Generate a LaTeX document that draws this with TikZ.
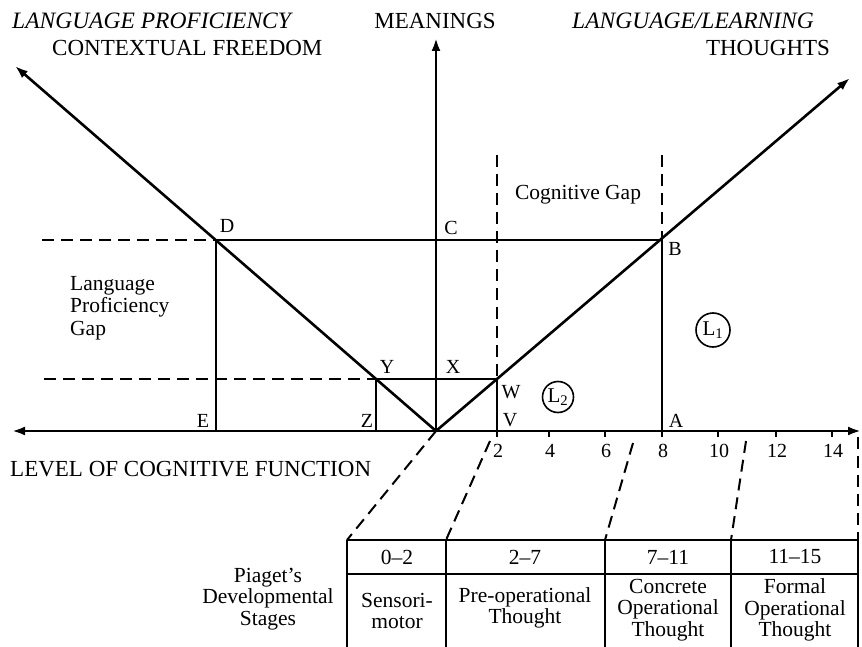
\documentclass[tikz,border=0pt]{standalone}
\usepackage{fontspec}
\setmainfont{Liberation Serif}
\usetikzlibrary{arrows.meta,calc}
\begin{document}
\begin{tikzpicture}[x=1pt,y=-1pt,
  mainline/.style={line width=2.6pt},
  rectline/.style={line width=2pt},
  dashline/.style={line width=2pt,dash pattern=on 12pt off 7pt},
  tableline/.style={line width=1.6pt},
  arr/.style={-{Latex[length=13pt,width=9pt]}},
  bigtext/.style={font=\fontsize{23}{25}\selectfont,inner sep=0pt},
  ittext/.style={font=\fontsize{23.5}{25}\selectfont\itshape,inner sep=0pt},
  celltext/.style={font=\fontsize{21.5}{23}\selectfont,inner sep=0pt},
  ptlabel/.style={font=\fontsize{20}{22}\selectfont,inner sep=0pt},
  ticklabel/.style={font=\fontsize{20}{22}\selectfont,inner sep=0pt},
  multi/.style={font=\fontsize{21.5}{21.5}\selectfont,align=center,inner sep=0pt},
  multil/.style={font=\fontsize{21.5}{22.5}\selectfont,align=left,inner sep=0pt,anchor=west},
  circ/.style={draw,circle,line width=1.6pt,minimum size=34pt,inner sep=0pt,font=\fontsize{21}{23}\selectfont}
]
\useasboundingbox (0,0) rectangle (862,647);

% key points
\coordinate (O) at (436,431);
\coordinate (XL) at (12,431);
\coordinate (XR) at (861,431);
\coordinate (MT) at (436,38);
\coordinate (LT) at (15,66);
\coordinate (RT) at (850,78);
\coordinate (D) at (216,240);
\coordinate (B) at (662,240);
\coordinate (Cp) at (436,240);
\coordinate (Y) at (376,379);
\coordinate (W) at (497,379);
\coordinate (Xp) at (436,379);
\coordinate (E) at (216,431);
\coordinate (Z) at (376,431);
\coordinate (V) at (497,431);
\coordinate (A) at (662,431);
\coordinate (DL) at (42,240);
\coordinate (YL) at (44,379);
\coordinate (WT) at (497,155);
\coordinate (BT) at (662,155);

% axes
\draw[mainline,arr] (O) -- (XL);
\draw[mainline,arr] (O) -- (XR);
\draw[mainline,arr] (O) -- (MT);
\draw[mainline,arr] (O) -- (LT);
\draw[mainline,arr] (O) -- (RT);

% rectangles
\draw[rectline] (D) -- (B);
\draw[rectline] (D) -- (E);
\draw[rectline] (B) -- (A);
\draw[rectline] (Y) -- (W);
\draw[rectline] (Y) -- (Z);
\draw[rectline] (W) -- (V);
\draw[dashline] (DL) -- (D);
\draw[dashline] (YL) -- (Y);
\draw[dashline] (WT) -- (W);
\draw[dashline] (BT) -- (B);

% ticks
\foreach \xx/\lab in {497/2,549/4,605/6,662/8,718/10,776/12,832/14}{
  \draw[line width=1.6pt] (\xx,431) -- (\xx,437);
  \node[ticklabel] (tk\lab) at (\xx+1,451) {\lab};
}

% table
\coordinate (T1) at (347,540);
\coordinate (T2) at (446,540);
\coordinate (T3) at (605,540);
\coordinate (T4) at (731,540);
\coordinate (T5) at (858,540);
\coordinate (S2) at (490,441);
\coordinate (S3) at (633,443);
\coordinate (S4) at (746,441);
\coordinate (S5) at (858,437);
\draw[dashline] (O) -- (T1);
\draw[dashline] (S2) -- (T2);
\draw[dashline] (S3) -- (T3);
\draw[dashline] (S4) -- (T4);
\draw[dashline] (S5) -- (T5);
\draw[tableline] (T1) -- (T5);
\draw[tableline] (347,574) -- (858,574);
\foreach \xx in {347,446,605,731,858}{
  \draw[tableline] (\xx,540) -- (\xx,647);
}

% headings
\node[ittext,anchor=west] (hlp) at (12,21) {LANGUAGE PROFICIENCY};
\node[bigtext] (hmean) at (435,21) {MEANINGS};
\node[ittext] (hll) at (693,21) {LANGUAGE/LEARNING};
\node[bigtext,anchor=west] (hcf) at (52,48) {CONTEXTUAL FREEDOM};
\node[bigtext] (hth) at (768,48) {THOUGHTS};
\node[bigtext,anchor=west] (hlev) at (10,469) {LEVEL OF COGNITIVE FUNCTION};
\node[multil] (lpg) at (70,308) {Language\\Proficiency\\Gap};
\node[celltext] (cg) at (578,195) {Cognitive Gap};
\node[multi] (pds) at (268,599) {Piaget's\\Developmental\\Stages};

% point labels
\node[ptlabel] (lD) at (227,226) {D};
\node[ptlabel] (lC) at (451,228) {C};
\node[ptlabel] (lB) at (675,249) {B};
\node[ptlabel] (lX) at (453,367) {X};
\node[ptlabel] (lY) at (387,367) {Y};
\node[ptlabel] (lW) at (511,392) {W};
\node[ptlabel] (lV) at (510,420) {V};
\node[ptlabel] (lA) at (676,421) {A};
\node[ptlabel] (lZ) at (367,421) {Z};
\node[ptlabel] (lE) at (203,421) {E};

\node[circ] (L1) at (713,330) {L\textsubscript{1}};
\node[circ,minimum size=31pt] (L2) at (558,397) {L\textsubscript{2}};

% table text
\node[celltext] (r1) at (397,557) {0–2};
\node[celltext] (r2) at (525,557) {2–7};
\node[celltext] (r3) at (668,557) {7–11};
\node[celltext] (r4) at (795,557) {11–15};
\node[multi] (s1) at (397,611) {Sensori-\\motor};
\node[multi] (s2) at (525,608) {Pre-operational\\Thought};
\node[multi] (s3) at (668,610) {Concrete\\Operational\\Thought};
\node[multi] (s4) at (795,610) {Formal\\Operational\\Thought};
\end{tikzpicture}
\end{document}
